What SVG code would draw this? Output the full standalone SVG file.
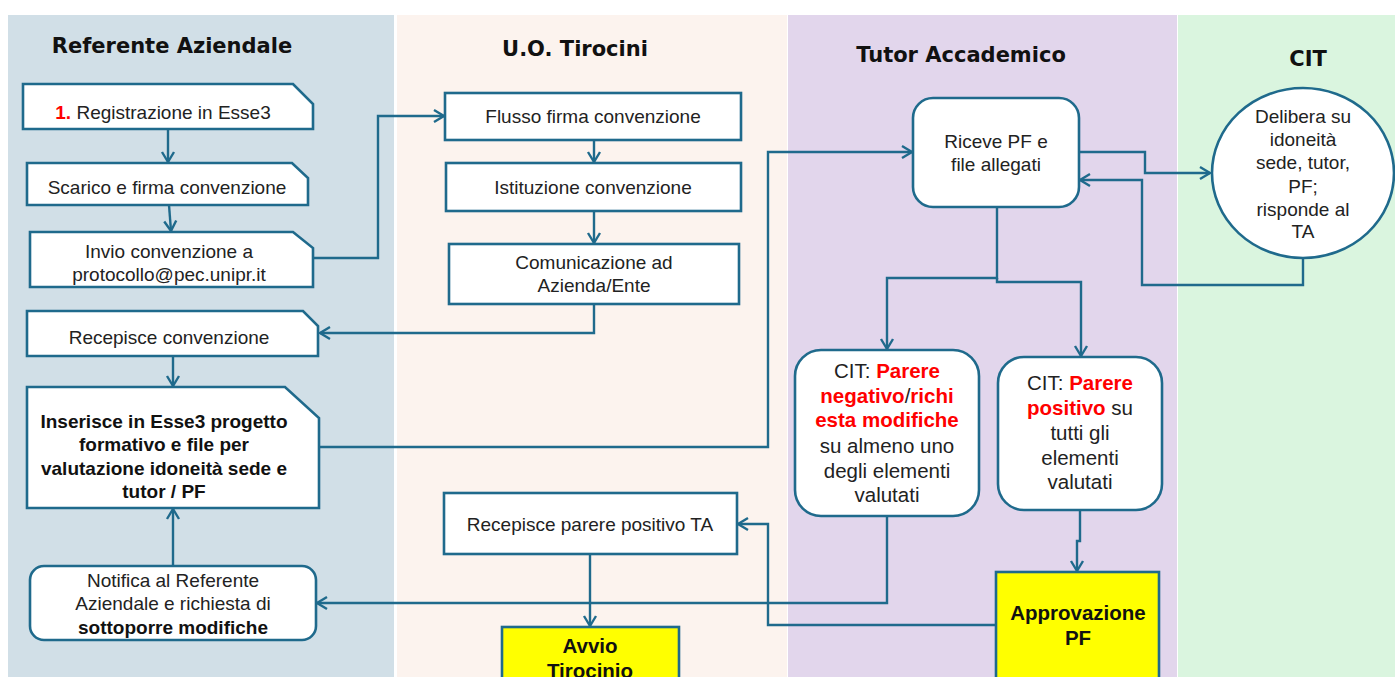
<svg xmlns="http://www.w3.org/2000/svg" width="1395" height="677" viewBox="0 0 1395 677">
<style>
.lane{stroke:none}
.title{font-family:"DejaVu Sans",sans-serif;font-weight:bold;font-size:21px;fill:#111;text-anchor:middle}
.box{fill:#fff;stroke:#1f6a8c;stroke-width:2.6}
.yel{fill:#ffff00;stroke:#1f6a8c;stroke-width:2.6}
.t{font-family:"Liberation Sans",Arial,sans-serif;font-size:19px;fill:#222;text-anchor:middle}
.tl{font-family:"Liberation Sans",Arial,sans-serif;font-size:20.5px;fill:#222;text-anchor:middle}
.b{font-weight:bold;fill:#111}
.r{font-weight:bold;fill:#ff0000}
.con{fill:none;stroke:#1f6a8c;stroke-width:2.4;marker-end:url(#arr)}
.con2{fill:none;stroke:#1f6a8c;stroke-width:2.4}
</style>
<defs>
<marker id="arr" markerUnits="userSpaceOnUse" markerWidth="14" markerHeight="16" refX="11" refY="7" orient="auto" viewBox="0 0 14 14">
<path d="M1,1 L11,7 L1,13" fill="none" stroke="#1f6a8c" stroke-width="2.4"/>
</marker>
</defs>
<rect width="1395" height="677" fill="#ffffff"/>
<g id="lanes">
<rect class="lane" x="8" y="15" width="386" height="662" fill="#d1dfe7"/>
<rect class="lane" x="397" y="15" width="390" height="662" fill="#fcf3ee"/>
<rect class="lane" x="788" y="15" width="389" height="662" fill="#e2d6ec"/>
<rect class="lane" x="1178" y="15" width="217" height="662" fill="#daf5df"/>
<text class="title" x="172" y="53">Referente Aziendale</text>
<text class="title" x="575" y="56">U.O. Tirocini</text>
<text class="title" x="961" y="62">Tutor Accademico</text>
<text class="title" x="1308" y="66">CIT</text>
</g>
<g id="connectors">
<path class="con" d="M168,129 V162"/>
<path class="con" d="M169,205 L171,231"/>
<path class="con" d="M313,258 H378 V116 H444"/>
<path class="con" d="M594,140 V162"/>
<path class="con" d="M594,211 V243"/>
<path class="con" d="M594,304 V333 H320"/>
<path class="con" d="M173,356 V386"/>
<path class="con" d="M319,447 H768 V152 H912"/>
<path class="con" d="M1079,152 H1145 V173 H1210"/>
<path class="con" d="M1303,258 V285 H1142 V180 H1080"/>
<path class="con" d="M997,207 V278 H887 V349"/>
<path class="con" d="M997,278 V282 H1081 V356"/>
<path class="con" d="M887,516 V603 H317"/>
<path class="con" d="M173,566 V509"/>
<path class="con" d="M1080,510 V541 H1077 V571"/>
<path class="con" d="M996,625 H768 V524 H738"/>
<path class="con" d="M590,554 V626"/>
</g>
<g id="n1">
<polygon class="box" points="23,84 293,84 313,104 313,129 23,129"/>
<text class="t" x="163" y="119"><tspan class="r">1.</tspan> Registrazione in Esse3</text>
</g>
<g id="n2">
<polygon class="box" points="27,163 292,163 308,178 308,205 27,205"/>
<text class="t" x="167" y="194">Scarico e firma convenzione</text>
</g>
<g id="n3">
<polygon class="box" points="30,232 293,232 313,248 313,287 30,287"/>
<text class="t" x="169" y="258">Invio convenzione a</text>
<text class="t" x="169" y="281">protocollo@pec.unipr.it</text>
</g>
<g id="n4">
<polygon class="box" points="27,311 303,311 318,326 318,356 27,356"/>
<text class="t" x="169" y="344">Recepisce convenzione</text>
</g>
<g id="n5">
<polygon class="box" points="27,387 285,387 319,418 319,508 27,508"/>
<text class="t b" x="164" y="428">Inserisce in Esse3 progetto</text>
<text class="t b" x="164" y="451">formativo e file per</text>
<text class="t b" x="164" y="475">valutazione idoneità sede e</text>
<text class="t b" x="164" y="498">tutor / PF</text>
</g>
<g id="n6">
<rect class="box" x="30" y="566" width="286" height="74" rx="14"/>
<text class="t" x="173" y="587">Notifica al Referente</text>
<text class="t" x="173" y="610">Aziendale e richiesta di</text>
<text class="t b" x="173" y="634">sottoporre modifiche</text>
</g>
<g id="n7">
<rect class="box" x="445" y="93" width="296" height="47"/>
<text class="t" x="593" y="123">Flusso firma convenzione</text>
</g>
<g id="n8">
<rect class="box" x="446" y="163" width="295" height="48"/>
<text class="t" x="593" y="194">Istituzione convenzione</text>
</g>
<g id="n9">
<rect class="box" x="449" y="244" width="290" height="60"/>
<text class="t" x="594" y="269">Comunicazione ad</text>
<text class="t" x="594" y="292">Azienda/Ente</text>
</g>
<g id="n10">
<rect class="box" x="444" y="493" width="293" height="61"/>
<text class="t" x="590" y="531">Recepisce parere positivo TA</text>
</g>
<g id="n11">
<rect class="yel" x="502" y="627" width="177" height="70"/>
<text class="tl b" x="590" y="653">Avvio</text>
<text class="tl b" x="590" y="678">Tirocinio</text>
</g>
<g id="n12">
<rect class="box" x="913" y="98" width="166" height="109" rx="20"/>
<text class="t" x="996" y="148">Riceve PF e</text>
<text class="t" x="996" y="171">file allegati</text>
</g>
<g id="n13">
<rect class="box" x="795" y="350" width="184" height="166" rx="26"/>
<text class="tl" x="887" y="378">CIT: <tspan class="r">Parere</tspan></text>
<text class="tl" x="887" y="403"><tspan class="r">negativo</tspan>/<tspan class="r">richi</tspan></text>
<text class="tl r" x="887" y="427">esta modifiche</text>
<text class="tl" x="887" y="453">su almeno uno</text>
<text class="tl" x="887" y="478">degli elementi</text>
<text class="tl" x="887" y="502">valutati</text>
</g>
<g id="n14">
<rect class="box" x="998" y="357" width="164" height="153" rx="26"/>
<text class="tl" x="1080" y="390">CIT: <tspan class="r">Parere</tspan></text>
<text class="tl" x="1080" y="415"><tspan class="r">positivo</tspan> su</text>
<text class="tl" x="1080" y="440">tutti gli</text>
<text class="tl" x="1080" y="465">elementi</text>
<text class="tl" x="1080" y="489">valutati</text>
</g>
<g id="n15">
<rect class="yel" x="996" y="572" width="163" height="120"/>
<text class="tl b" x="1078" y="620">Approvazione</text>
<text class="tl b" x="1078" y="645">PF</text>
</g>
<g id="n16">
<ellipse class="box" cx="1303" cy="173" rx="91" ry="85"/>
<text class="t" x="1303" y="123">Delibera su</text>
<text class="t" x="1303" y="146">idoneità</text>
<text class="t" x="1303" y="169">sede, tutor,</text>
<text class="t" x="1303" y="193">PF;</text>
<text class="t" x="1303" y="216">risponde al</text>
<text class="t" x="1303" y="238">TA</text>
</g>
</svg>
